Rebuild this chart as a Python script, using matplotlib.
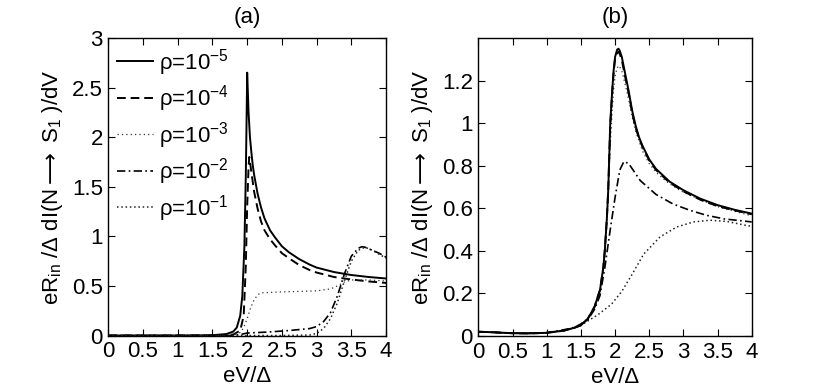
import matplotlib
matplotlib.use("Agg")
import matplotlib.pyplot as plt

plt.rcParams['font.family'] = ['Liberation Sans', 'DejaVu Sans']
plt.rcParams['mathtext.fontset'] = 'custom'
plt.rcParams['mathtext.rm'] = 'Liberation Sans'
plt.rcParams['mathtext.it'] = 'Liberation Sans:italic'
plt.rcParams['mathtext.bf'] = 'Liberation Sans:bold'
plt.rcParams['mathtext.sf'] = 'DejaVu Sans'

# ---------------- data: panel (a) ----------------
a_x1 = [0, 1.0, 1.5, 1.7, 1.8, 1.85, 1.9, 1.93, 1.96, 1.98, 1.99, 2.0, 2.01, 2.02, 2.04, 2.06, 2.08, 2.1, 2.15, 2.2, 2.25, 2.33, 2.4, 2.5, 2.6, 2.75, 2.9, 3.0, 3.25, 3.5, 3.75, 4.0]
a_y1 = [0, 0, 0.003, 0.015, 0.04, 0.08, 0.2, 0.4, 0.9, 1.6, 2.1, 2.65, 2.45, 2.25, 2.0, 1.85, 1.72, 1.62, 1.43, 1.29, 1.18, 1.06, 0.99, 0.90, 0.84, 0.77, 0.715, 0.685, 0.64, 0.61, 0.59, 0.575]

a_x2 = [0, 1.5, 1.8, 1.9, 1.95, 1.98, 2.0, 2.02, 2.03, 2.05, 2.08, 2.1, 2.15, 2.2, 2.25, 2.33, 2.4, 2.5, 2.6, 2.75, 2.9, 3.0, 3.25, 3.5, 3.75, 4.0]
a_y2 = [0, 0.0, 0.01, 0.05, 0.2, 0.7, 1.3, 1.7, 1.80, 1.70, 1.55, 1.45, 1.28, 1.15, 1.06, 0.97, 0.91, 0.83, 0.78, 0.71, 0.66, 0.635, 0.59, 0.565, 0.545, 0.53]

a_x3 = [0, 1.5, 1.8, 1.9, 1.95, 2.0, 2.05, 2.1, 2.15, 2.2, 2.5, 3.0, 3.2, 3.3, 3.4, 3.5, 3.75, 4.0]
a_y3 = [0, 0, 0.005, 0.03, 0.08, 0.17, 0.28, 0.36, 0.41, 0.43, 0.44, 0.45, 0.47, 0.50, 0.54, 0.56, 0.56, 0.55]

a_x4 = [0, 1.8, 1.9, 2.0, 2.3, 2.6, 2.9, 3.0, 3.1, 3.2, 3.3, 3.4, 3.5, 3.6, 3.65, 3.7, 3.8, 3.9, 4.0]
a_y4 = [0, 0, 0.01, 0.025, 0.035, 0.05, 0.07, 0.09, 0.14, 0.23, 0.40, 0.62, 0.80, 0.88, 0.895, 0.89, 0.86, 0.83, 0.79]

a_x5 = [0, 2.5, 2.9, 3.0, 3.1, 3.2, 3.3, 3.4, 3.5, 3.6, 3.7, 3.8, 3.9, 4.0]
a_y5 = [0, 0, 0.005, 0.02, 0.07, 0.17, 0.33, 0.55, 0.75, 0.86, 0.89, 0.86, 0.82, 0.78]

# ---------------- data: panel (b) ----------------
b_x1 = [0, 0.25, 0.5, 0.75, 1.0, 1.25, 1.4, 1.5, 1.6, 1.7, 1.78, 1.83, 1.85, 1.88, 1.9, 1.93, 1.96, 1.98, 2.0, 2.03, 2.05, 2.07, 2.1, 2.15, 2.2, 2.25, 2.3, 2.35, 2.4, 2.5, 2.6, 2.7, 2.8, 3.0, 3.25, 3.5, 3.75, 4.0]
b_y1 = [0.02, 0.017, 0.013, 0.012, 0.015, 0.025, 0.038, 0.05, 0.08, 0.137, 0.216, 0.325, 0.40, 0.55, 0.68, 1.0, 1.16, 1.25, 1.31, 1.345, 1.35, 1.34, 1.31, 1.23, 1.15, 1.06, 0.99, 0.935, 0.895, 0.83, 0.785, 0.755, 0.725, 0.685, 0.645, 0.615, 0.593, 0.575]

b_x2 = b_x1
b_y2 = [0.02, 0.017, 0.013, 0.012, 0.015, 0.025, 0.038, 0.05, 0.08, 0.137, 0.216, 0.325, 0.40, 0.55, 0.68, 0.99, 1.15, 1.24, 1.30, 1.33, 1.335, 1.325, 1.295, 1.215, 1.14, 1.05, 0.98, 0.93, 0.89, 0.825, 0.78, 0.75, 0.72, 0.68, 0.64, 0.61, 0.59, 0.572]

b_x3 = [0, 0.5, 1.0, 1.4, 1.6, 1.7, 1.78, 1.83, 1.88, 1.93, 1.96, 1.98, 2.0, 2.03, 2.06, 2.1, 2.15, 2.2, 2.25, 2.3, 2.4, 2.5, 2.6, 2.7, 2.8, 3.0, 3.25, 3.5, 3.75, 4.0]
b_y3 = [0.02, 0.013, 0.015, 0.038, 0.08, 0.135, 0.21, 0.32, 0.52, 0.90, 1.07, 1.16, 1.22, 1.26, 1.27, 1.245, 1.18, 1.11, 1.03, 0.965, 0.87, 0.81, 0.77, 0.74, 0.715, 0.675, 0.64, 0.608, 0.586, 0.565]

b_x4 = [0, 0.5, 1.0, 1.4, 1.6, 1.7, 1.78, 1.85, 1.93, 2.0, 2.07, 2.13, 2.2, 2.37, 2.6, 2.85, 3.1, 3.34, 3.6, 4.0]
b_y4 = [0.02, 0.013, 0.015, 0.038, 0.075, 0.125, 0.19, 0.32, 0.50, 0.65, 0.78, 0.82, 0.81, 0.73, 0.665, 0.62, 0.59, 0.567, 0.55, 0.536]

b_x5 = [0, 0.5, 1.0, 1.3, 1.55, 1.75, 1.95, 2.1, 2.25, 2.42, 2.66, 2.9, 3.15, 3.39, 3.64, 3.88, 4.0]
b_y5 = [0.02, 0.013, 0.014, 0.03, 0.06, 0.10, 0.15, 0.21, 0.29, 0.385, 0.466, 0.512, 0.536, 0.544, 0.538, 0.522, 0.515]

labels = [r'ρ=10$^{-5}$', r'ρ=10$^{-4}$', r'ρ=10$^{-3}$', r'ρ=10$^{-2}$', r'ρ=10$^{-1}$']
x_ticks = [0, 0.5, 1, 1.5, 2, 2.5, 3, 3.5, 4]
x_ticklabels = ['0', '0.5', '1', '1.5', '2', '2.5', '3', '3.5', '4']
a_yticks = [0, 0.5, 1, 1.5, 2, 2.5, 3]
a_yticklabels = ['0', '0.5', '1', '1.5', '2', '2.5', '3']
b_yticks = [0, 0.2, 0.4, 0.6, 0.8, 1.0, 1.2]
b_yticklabels = ['0', '0.2', '0.4', '0.6', '0.8', '1', '1.2']

styles = [
    dict(color='black', lw=1.4, linestyle='-'),
    dict(color='black', lw=1.4, linestyle=(0, (4.5, 2.5))),
    dict(color='#333333', lw=0.9, linestyle=(0, (1, 2.5))),
    dict(color='black', lw=1.2, linestyle=(0, (5, 2, 1, 2))),
    dict(color='#222222', lw=1.1, linestyle=(0, (1, 1.8))),
]

FS = 16
ylabel = r'eR$_{\rm in}$ /Δ dI(N$\mathsf{\longrightarrow}$ S$_1$ )/dV'

fig = plt.figure(figsize=(8.30, 3.91), dpi=100)
axa = fig.add_axes([0.1305, 0.1419, 0.3346, 0.761])
axb = fig.add_axes([0.5763, 0.1407, 0.3294, 0.762])

series_a = [(a_x1, a_y1), (a_x2, a_y2), (a_x3, a_y3), (a_x4, a_y4), (a_x5, a_y5)]
series_b = [(b_x1, b_y1), (b_x2, b_y2), (b_x3, b_y3), (b_x4, b_y4), (b_x5, b_y5)]

for (x, y), st, lab in zip(series_a, styles, labels):
    axa.plot(x, y, label=lab, **st)
for (x, y), st in list(zip(series_b, styles))[::-1]:
    axb.plot(x, y, **st)

for ax in (axa, axb):
    ax.set_xlim(0, 4)
    ax.set_xticks(x_ticks)
    ax.set_xticklabels(x_ticklabels)
    ax.tick_params(direction='in', top=True, right=True, length=5, width=0.8,
                   labelsize=FS, pad=4)
    for s in ax.spines.values():
        s.set_linewidth(1.0)
    ax.set_xlabel('eV/Δ', fontsize=FS, labelpad=3)
    ax.set_ylabel(ylabel, fontsize=FS, labelpad=5)

axa.set_ylim(0, 3)
axa.set_yticks(a_yticks)
axa.set_yticklabels(a_yticklabels)
axb.set_ylim(0, 1.4)
axb.set_yticks(b_yticks)
axb.set_yticklabels(b_yticklabels)

axa.set_title('(a)', fontsize=FS, pad=11)
axb.set_title('(b)', fontsize=FS, pad=11)

axa.legend(loc='upper left', frameon=False, fontsize=FS, handlelength=1.6,
           handletextpad=0.3, labelspacing=0.25, borderaxespad=0.15,
           borderpad=0.25)

fig.savefig('out.png', dpi=100)
